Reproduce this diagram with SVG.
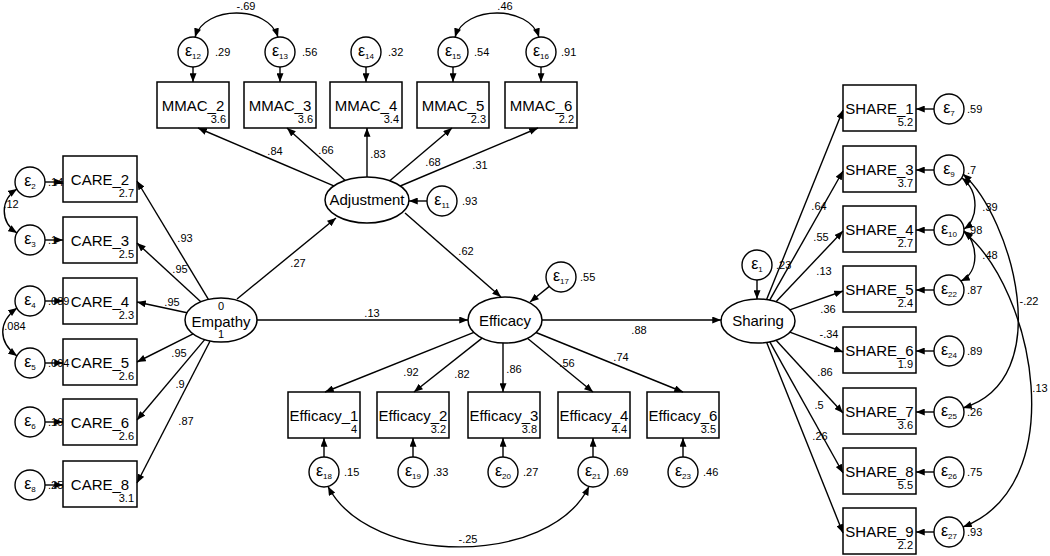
<svg xmlns="http://www.w3.org/2000/svg" width="1050" height="556" viewBox="0 0 1050 556">
<style>
.box{fill:#fff;stroke:#000;stroke-width:1.5}
.lat{fill:#fff;stroke:#000;stroke-width:1.5}
.err{fill:#fff;stroke:#000;stroke-width:1.4}
.ln{fill:none;stroke:#000;stroke-width:1.4;marker-end:url(#ah)}
.cv{fill:none;stroke:#000;stroke-width:1.4;marker-start:url(#ah);marker-end:url(#ah)}
text{font-family:"Liberation Sans",Arial,sans-serif;fill:#000}
.lb{font-size:15px;text-anchor:middle}
.num{font-size:11px;text-anchor:end}
.pl{font-size:11px;text-anchor:middle}
.vl{font-size:11px}
.eps{font-size:16px;text-anchor:middle}
.sub{font-size:8px}
</style>
<defs>
<marker id="ah" viewBox="0 0 10 8" refX="10" refY="4" markerWidth="9" markerHeight="7" orient="auto-start-reverse" markerUnits="userSpaceOnUse"><path d="M0,0 L10,4 L0,8 z" fill="#000"/></marker>
</defs>

<!-- CARE indicators -->
<g id="CARE_2"><rect class="box" x="63" y="156" width="74" height="46"/><text class="lb" x="100" y="185">CARE_2</text><text class="num" x="134" y="197">2.7</text></g>
<g id="CARE_3"><rect class="box" x="63" y="217" width="74" height="46"/><text class="lb" x="100" y="246">CARE_3</text><text class="num" x="134" y="258">2.5</text></g>
<g id="CARE_4"><rect class="box" x="63" y="278" width="74" height="46"/><text class="lb" x="100" y="307">CARE_4</text><text class="num" x="134" y="319">2.3</text></g>
<g id="CARE_5"><rect class="box" x="63" y="339" width="74" height="46"/><text class="lb" x="100" y="368">CARE_5</text><text class="num" x="134" y="380">2.6</text></g>
<g id="CARE_6"><rect class="box" x="63" y="399" width="74" height="46"/><text class="lb" x="100" y="428">CARE_6</text><text class="num" x="134" y="440">2.6</text></g>
<g id="CARE_8"><rect class="box" x="63" y="461" width="74" height="46"/><text class="lb" x="100" y="490">CARE_8</text><text class="num" x="134" y="502">3.1</text></g>

<g id="e2"><circle class="err" cx="30" cy="182" r="15"/><text class="eps" x="30" y="186">ε<tspan class="sub" dy="3">2</tspan></text><text class="vl" x="48" y="186">.14</text></g>
<g id="e3"><circle class="err" cx="30" cy="240" r="15"/><text class="eps" x="30" y="244">ε<tspan class="sub" dy="3">3</tspan></text><text class="vl" x="48" y="244">.1</text></g>
<g id="e4"><circle class="err" cx="30" cy="301" r="15"/><text class="eps" x="30" y="305">ε<tspan class="sub" dy="3">4</tspan></text><text class="vl" x="48" y="305">.089</text></g>
<g id="e5"><circle class="err" cx="30" cy="363" r="15"/><text class="eps" x="30" y="367">ε<tspan class="sub" dy="3">5</tspan></text><text class="vl" x="48" y="367">.094</text></g>
<g id="e6"><circle class="err" cx="30" cy="422" r="15"/><text class="eps" x="30" y="426">ε<tspan class="sub" dy="3">6</tspan></text><text class="vl" x="48" y="426">.19</text></g>
<g id="e8"><circle class="err" cx="30" cy="485" r="15"/><text class="eps" x="30" y="489">ε<tspan class="sub" dy="3">8</tspan></text><text class="vl" x="48" y="489">.25</text></g>

<!-- MMAC indicators -->
<g id="MMAC_2"><rect class="box" x="157" y="82" width="72" height="46"/><text class="lb" x="193" y="111">MMAC_2</text><text class="num" x="226" y="123">3.6</text></g>
<g id="MMAC_3"><rect class="box" x="244" y="82" width="72" height="46"/><text class="lb" x="280" y="111">MMAC_3</text><text class="num" x="313" y="123">3.6</text></g>
<g id="MMAC_4"><rect class="box" x="330" y="82" width="72" height="46"/><text class="lb" x="366" y="111">MMAC_4</text><text class="num" x="399" y="123">3.4</text></g>
<g id="MMAC_5"><rect class="box" x="417" y="82" width="72" height="46"/><text class="lb" x="453" y="111">MMAC_5</text><text class="num" x="486" y="123">2.3</text></g>
<g id="MMAC_6"><rect class="box" x="505" y="82" width="72" height="46"/><text class="lb" x="541" y="111">MMAC_6</text><text class="num" x="574" y="123">2.2</text></g>

<g id="e12"><circle class="err" cx="193" cy="52" r="15"/><text class="eps" x="193" y="56">ε<tspan class="sub" dy="3">12</tspan></text><text class="vl" x="215" y="56">.29</text></g>
<g id="e13"><circle class="err" cx="280" cy="52" r="15"/><text class="eps" x="280" y="56">ε<tspan class="sub" dy="3">13</tspan></text><text class="vl" x="302" y="56">.56</text></g>
<g id="e14"><circle class="err" cx="366" cy="52" r="15"/><text class="eps" x="366" y="56">ε<tspan class="sub" dy="3">14</tspan></text><text class="vl" x="388" y="56">.32</text></g>
<g id="e15"><circle class="err" cx="453" cy="52" r="15"/><text class="eps" x="453" y="56">ε<tspan class="sub" dy="3">15</tspan></text><text class="vl" x="474" y="56">.54</text></g>
<g id="e16"><circle class="err" cx="541" cy="52" r="15"/><text class="eps" x="541" y="56">ε<tspan class="sub" dy="3">16</tspan></text><text class="vl" x="561" y="56">.91</text></g>

<!-- Latent variables -->
<g id="Adjustment"><ellipse class="lat" cx="367" cy="200" rx="42" ry="23"/><text class="lb" x="367" y="205">Adjustment</text></g>
<g id="e11"><circle class="err" cx="442" cy="201" r="15"/><text class="eps" x="442" y="205">ε<tspan class="sub" dy="3">11</tspan></text><text class="vl" x="462" y="205">.93</text></g>
<g id="Empathy"><ellipse class="lat" cx="221" cy="320" rx="36" ry="22"/><text class="lb" x="221" y="327">Empathy</text><text class="pl" x="221" y="310">0</text><text class="pl" x="221" y="338">1</text></g>
<g id="Efficacy"><ellipse class="lat" cx="505" cy="320" rx="37" ry="23"/><text class="lb" x="505" y="326">Efficacy</text></g>
<g id="e17"><circle class="err" cx="561" cy="277" r="15"/><text class="eps" x="561" y="281">ε<tspan class="sub" dy="3">17</tspan></text><text class="vl" x="580" y="281">.55</text></g>
<g id="Sharing"><ellipse class="lat" cx="758" cy="321" rx="37" ry="22"/><text class="lb" x="758" y="326">Sharing</text></g>
<g id="e1"><circle class="err" cx="757" cy="265" r="15"/><text class="eps" x="757" y="269">ε<tspan class="sub" dy="3">1</tspan></text><text class="vl" x="776" y="269">.23</text></g>

<!-- Efficacy indicators -->
<g id="Efficacy_1"><rect class="box" x="288" y="392" width="72" height="46"/><text class="lb" x="324" y="421">Efficacy_1</text><text class="num" x="357" y="433">4</text></g>
<g id="Efficacy_2"><rect class="box" x="377" y="392" width="72" height="46"/><text class="lb" x="413" y="421">Efficacy_2</text><text class="num" x="446" y="433">3.2</text></g>
<g id="Efficacy_3"><rect class="box" x="468" y="392" width="72" height="46"/><text class="lb" x="504" y="421">Efficacy_3</text><text class="num" x="537" y="433">3.8</text></g>
<g id="Efficacy_4"><rect class="box" x="558" y="392" width="72" height="46"/><text class="lb" x="594" y="421">Efficacy_4</text><text class="num" x="627" y="433">4.4</text></g>
<g id="Efficacy_6"><rect class="box" x="647" y="392" width="72" height="46"/><text class="lb" x="683" y="421">Efficacy_6</text><text class="num" x="716" y="433">3.5</text></g>

<g id="e18"><circle class="err" cx="324" cy="472" r="15"/><text class="eps" x="324" y="476">ε<tspan class="sub" dy="3">18</tspan></text><text class="vl" x="344" y="476">.15</text></g>
<g id="e19"><circle class="err" cx="413" cy="472" r="15"/><text class="eps" x="413" y="476">ε<tspan class="sub" dy="3">19</tspan></text><text class="vl" x="433" y="476">.33</text></g>
<g id="e20"><circle class="err" cx="503" cy="472" r="15"/><text class="eps" x="503" y="476">ε<tspan class="sub" dy="3">20</tspan></text><text class="vl" x="523" y="476">.27</text></g>
<g id="e21"><circle class="err" cx="593" cy="472" r="15"/><text class="eps" x="593" y="476">ε<tspan class="sub" dy="3">21</tspan></text><text class="vl" x="613" y="476">.69</text></g>
<g id="e23"><circle class="err" cx="683" cy="472" r="15"/><text class="eps" x="683" y="476">ε<tspan class="sub" dy="3">23</tspan></text><text class="vl" x="703" y="476">.46</text></g>

<!-- SHARE indicators -->
<g id="SHARE_1"><rect class="box" x="843" y="85" width="73" height="46"/><text class="lb" x="879.5" y="114">SHARE_1</text><text class="num" x="913" y="126">5.2</text></g>
<g id="SHARE_3"><rect class="box" x="843" y="146" width="73" height="46"/><text class="lb" x="879.5" y="175">SHARE_3</text><text class="num" x="913" y="187">3.7</text></g>
<g id="SHARE_4"><rect class="box" x="843" y="206" width="73" height="46"/><text class="lb" x="879.5" y="235">SHARE_4</text><text class="num" x="913" y="247">2.7</text></g>
<g id="SHARE_5"><rect class="box" x="843" y="266" width="73" height="46"/><text class="lb" x="879.5" y="295">SHARE_5</text><text class="num" x="913" y="307">2.4</text></g>
<g id="SHARE_6"><rect class="box" x="843" y="327" width="73" height="46"/><text class="lb" x="879.5" y="356">SHARE_6</text><text class="num" x="913" y="368">1.9</text></g>
<g id="SHARE_7"><rect class="box" x="843" y="388" width="73" height="46"/><text class="lb" x="879.5" y="417">SHARE_7</text><text class="num" x="913" y="429">3.6</text></g>
<g id="SHARE_8"><rect class="box" x="843" y="448" width="73" height="46"/><text class="lb" x="879.5" y="477">SHARE_8</text><text class="num" x="913" y="489">5.5</text></g>
<g id="SHARE_9"><rect class="box" x="843" y="508" width="73" height="46"/><text class="lb" x="879.5" y="537">SHARE_9</text><text class="num" x="913" y="549">2.2</text></g>

<g id="e7"><circle class="err" cx="949" cy="109" r="15"/><text class="eps" x="949" y="113">ε<tspan class="sub" dy="3">7</tspan></text><text class="vl" x="967" y="113">.59</text></g>
<g id="e9"><circle class="err" cx="949" cy="170" r="15"/><text class="eps" x="949" y="174">ε<tspan class="sub" dy="3">9</tspan></text><text class="vl" x="967" y="174">.7</text></g>
<g id="e10"><circle class="err" cx="949" cy="230" r="15"/><text class="eps" x="949" y="234">ε<tspan class="sub" dy="3">10</tspan></text><text class="vl" x="967" y="234">.98</text></g>
<g id="e22"><circle class="err" cx="949" cy="290" r="15"/><text class="eps" x="949" y="294">ε<tspan class="sub" dy="3">22</tspan></text><text class="vl" x="967" y="294">.87</text></g>
<g id="e24"><circle class="err" cx="949" cy="351" r="15"/><text class="eps" x="949" y="355">ε<tspan class="sub" dy="3">24</tspan></text><text class="vl" x="967" y="355">.89</text></g>
<g id="e25"><circle class="err" cx="949" cy="412" r="15"/><text class="eps" x="949" y="416">ε<tspan class="sub" dy="3">25</tspan></text><text class="vl" x="967" y="416">.26</text></g>
<g id="e26"><circle class="err" cx="949" cy="472" r="15"/><text class="eps" x="949" y="476">ε<tspan class="sub" dy="3">26</tspan></text><text class="vl" x="967" y="476">.75</text></g>
<g id="e27"><circle class="err" cx="949" cy="532" r="15"/><text class="eps" x="949" y="536">ε<tspan class="sub" dy="3">27</tspan></text><text class="vl" x="967" y="536">.93</text></g>

<!-- Connectors -->
<g id="connectors">
<path class="ln" d="M208.4 299.4 L137 181"/>
<path class="ln" d="M200.8 301.8 L137 243"/>
<path class="ln" d="M187 312.7 L137 302"/>
<path class="ln" d="M193.1 333.9 L137 362"/>
<path class="ln" d="M204.7 339.6 L137 420"/>
<path class="ln" d="M210.1 341 L137 483"/>
<path class="ln" d="M45 182 H63"/>
<path class="ln" d="M45 240 H63"/>
<path class="ln" d="M45 301 H63"/>
<path class="ln" d="M45 363 H63"/>
<path class="ln" d="M45 422 H63"/>
<path class="ln" d="M45 485 H63"/>
<path class="cv" d="M17 189 C0 200 0 222 17 233"/>
<path class="cv" d="M17 308 C-2 322 -2 342 17 356"/>
<path class="ln" d="M333.8 185.9 L198 128"/>
<path class="ln" d="M345.2 180.4 L287 128"/>
<path class="ln" d="M367 177 V128"/>
<path class="ln" d="M389.8 180.7 L452 128"/>
<path class="ln" d="M400.3 186 L538 128"/>
<path class="ln" d="M193 67 V82"/>
<path class="ln" d="M280 67 V82"/>
<path class="ln" d="M366 67 V82"/>
<path class="ln" d="M453 67 V82"/>
<path class="ln" d="M541 67 V82"/>
<path class="cv" d="M195 37 C205 5 268 5 278 37"/>
<path class="cv" d="M455 37 C465 5 529 5 539 37"/>
<path class="ln" d="M427 201 H409"/>
<path class="ln" d="M237 299 L336 218"/>
<path class="ln" d="M257 320 H468"/>
<path class="ln" d="M405 213 L501 297"/>
<path class="ln" d="M549.3 286.4 L530 302"/>
<path class="ln" d="M542 320 H721"/>
<path class="ln" d="M757 280 V299"/>
<path class="ln" d="M473.9 332.4 L325 392"/>
<path class="ln" d="M482.1 338.1 L414 392"/>
<path class="ln" d="M503 343 V392"/>
<path class="ln" d="M527.4 338.3 L593 392"/>
<path class="ln" d="M536 332.5 L683 392"/>
<path class="ln" d="M324 457 V438"/>
<path class="ln" d="M413 457 V438"/>
<path class="ln" d="M503 457 V438"/>
<path class="ln" d="M593 457 V438"/>
<path class="ln" d="M683 457 V438"/>
<path class="cv" d="M328 486.5 C370 567 550 567 589 486.5"/>
<path class="ln" d="M766.6 299.6 L843 110"/>
<path class="ln" d="M769.7 300.1 L843 171"/>
<path class="ln" d="M776 301.8 L843 231"/>
<path class="ln" d="M789.8 309.8 L843 291"/>
<path class="ln" d="M789.8 332.2 L843 352"/>
<path class="ln" d="M776.1 340.2 L843 413"/>
<path class="ln" d="M769.8 341.8 L843 473"/>
<path class="ln" d="M766.7 342.4 L843 533"/>
<path class="ln" d="M934 109 H916"/>
<path class="ln" d="M934 170 H916"/>
<path class="ln" d="M934 230 H916"/>
<path class="ln" d="M934 290 H916"/>
<path class="ln" d="M934 351 H916"/>
<path class="ln" d="M934 412 H916"/>
<path class="ln" d="M934 472 H916"/>
<path class="ln" d="M934 532 H916"/>
<path class="cv" d="M962 178 C980 192 978 220 964 229"/>
<path class="cv" d="M964 231 C978 242 980 272 961 281"/>
<path class="cv" d="M963 174 C1012 218 1058 380 963 408"/>
<path class="cv" d="M964 232 C1035 290 1072 485 963 527"/>

<text class="pl" x="185" y="242">.93</text>
<text class="pl" x="180" y="273">.95</text>
<text class="pl" x="172" y="306">.95</text>
<text class="pl" x="179" y="357">.95</text>
<text class="pl" x="180" y="388">.9</text>
<text class="pl" x="186" y="425">.87</text>
<text class="pl" x="11" y="208">.12</text>
<text class="pl" x="15" y="330">.084</text>
<text class="pl" x="246" y="10">-.69</text>
<text class="pl" x="505" y="10">.46</text>
<text class="pl" x="275" y="155">.84</text>
<text class="pl" x="326" y="154">.66</text>
<text class="pl" x="378" y="158">.83</text>
<text class="pl" x="433" y="166">.68</text>
<text class="pl" x="480" y="169">.31</text>
<text class="pl" x="298" y="267">.27</text>
<text class="pl" x="372" y="317">.13</text>
<text class="pl" x="466" y="255">.62</text>
<text class="pl" x="639" y="334">.88</text>
<text class="pl" x="411" y="376">.92</text>
<text class="pl" x="462" y="378">.82</text>
<text class="pl" x="514" y="373">.86</text>
<text class="pl" x="567" y="367">.56</text>
<text class="pl" x="621" y="361">.74</text>
<text class="pl" x="468" y="543">-.25</text>
<text class="pl" x="819" y="210">.64</text>
<text class="pl" x="821" y="241">.55</text>
<text class="pl" x="824" y="275">.13</text>
<text class="pl" x="828" y="313">.36</text>
<text class="pl" x="829" y="338">-.34</text>
<text class="pl" x="825" y="376">.86</text>
<text class="pl" x="819" y="409">.5</text>
<text class="pl" x="820" y="440">.26</text>
<text class="pl" x="990" y="211">.39</text>
<text class="pl" x="990" y="259">.48</text>
<text class="pl" x="1029" y="305">-.22</text>
<text class="pl" x="1040" y="392">.13</text>
</g>
</svg>
